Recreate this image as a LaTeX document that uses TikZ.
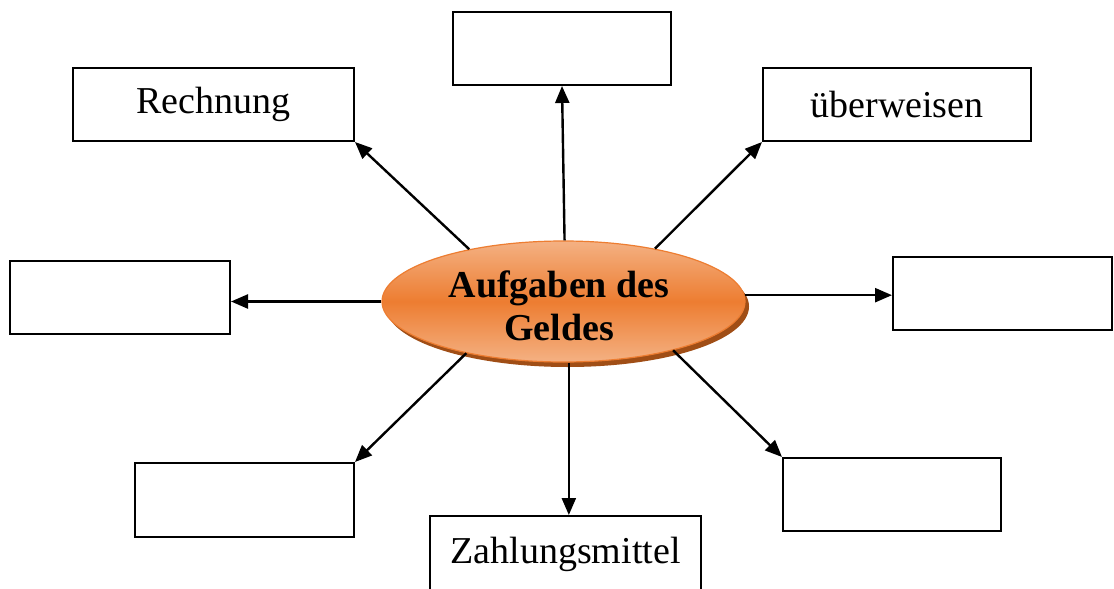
\documentclass[tikz,border=0pt]{standalone}
\usepackage{fontspec}
\setmainfont{Liberation Serif}
\usetikzlibrary{arrows.meta,shapes.geometric}
\definecolor{orlight}{RGB}{244,177,131}
\definecolor{ormid}{RGB}{237,125,49}
\definecolor{orshadow}{RGB}{160,78,22}
\tikzset{
  box/.style={draw=black, line width=2pt, fill=white, inner sep=0pt,
    font=\fontsize{38}{43}\selectfont},
  arr/.style={line width=2.4pt, -{Triangle[length=17pt,width=14pt]}},
  ell/.style={ellipse, inner sep=0pt, minimum width=363pt, minimum height=121pt},
}
\begin{document}
\begin{tikzpicture}[x=1pt,y=-1pt]
\useasboundingbox (0,0) rectangle (1114,589);
\clip (0,0) rectangle (1114,589);
\fill[white] (0,0) rectangle (1114,589);
% boxes
\node[box, minimum width=218pt, minimum height=73pt] (top) at (562,48.5) {};
\node[box, minimum width=281pt, minimum height=73pt] (rech) at (213.5,104.5) {Rechnung};
\node[box, minimum width=268pt, minimum height=73pt] (uber) at (897,104.5) {überweisen};
\node[box, minimum width=220pt, minimum height=73pt] (lbox) at (120,297.5) {};
\node[box, minimum width=219pt, minimum height=73pt] (rbox) at (1002.5,293.5) {};
\node[box, minimum width=219pt, minimum height=74pt] (blbox) at (244.5,500) {};
\node[box, minimum width=218pt, minimum height=73pt] (brbox) at (892,494.5) {};
\node[box, minimum width=271pt, minimum height=80pt] (zbox) at (565.5,556) {};
\node[font=\fontsize{38}{43}\selectfont, inner sep=0pt, anchor=base] (ztext) at (565.5,563) {Zahlungsmittel};
% ellipse shadow and ellipse
\node[ell, fill=orshadow] (ellsh) at (567.5,306.5) {};
\node[ell, draw=ormid, line width=1.2pt, top color=orlight, bottom color=orlight, middle color=ormid] (ell) at (563.5,301.5) {};
\node[align=center, inner sep=0pt, font=\fontsize{38}{43}\selectfont\bfseries] (etext) at (559,306) {Aufgaben des\\Geldes};
% connectors
\draw[arr] (ell.89) -- (top.south);
\draw[arr] (ell.151) -- (rech.south east);
\draw[arr] (ell.30) -- (uber.south west);
\draw[arr] (ell.west) -- (ell.west -| lbox.east);
\draw[arr] (ell.2) -- (ell.2 -| rbox.west);
\draw[arr] (ell.208) -- (blbox.north east);
\draw[arr] (ell.275) -- (ell.275 |- zbox.north);
\draw[arr] (ell.336) -- (brbox.north west);
\end{tikzpicture}
\end{document}
